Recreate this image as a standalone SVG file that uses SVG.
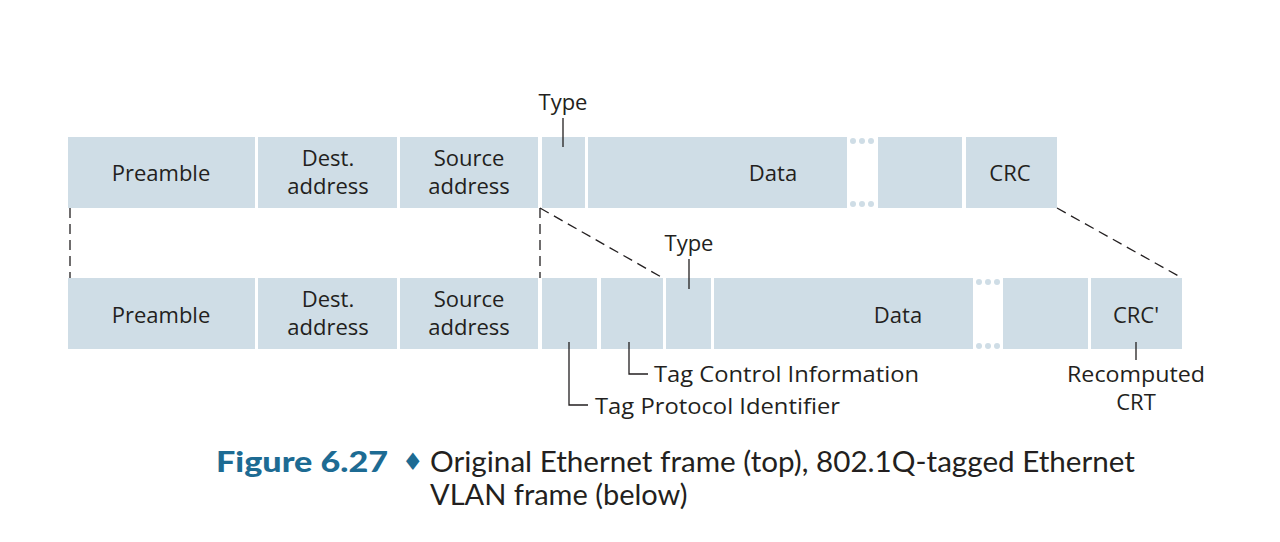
<svg xmlns="http://www.w3.org/2000/svg" width="1280" height="542" viewBox="0 0 1280 542">
<style>
.f{fill:#cfdde6}
.t{font-family:"Open Sans","Noto Sans",sans-serif;font-size:22px;fill:#231f20;text-anchor:middle}
.ts{font-family:"Open Sans","Noto Sans",sans-serif;font-size:22px;fill:#231f20}
.ln{stroke:#231f20;stroke-width:1.3;fill:none}
.dash{stroke:#231f20;stroke-width:1.3;fill:none;stroke-dasharray:10 6}
.dot{fill:#cfdde6}
.cap{font-family:"Lato","Open Sans",sans-serif;font-size:29px;fill:#231f20}
.capb{font-family:"Lato","Open Sans",sans-serif;font-size:29px;font-weight:900;fill:#1d6b93}
</style>
<rect width="1280" height="542" fill="#ffffff"/>
<g id="top-frame">
 <g id="t-preamble"><rect class="f" x="68" y="137" width="187" height="71"/><text class="t" x="161" y="181">Preamble</text></g>
 <g id="t-dest"><rect class="f" x="258" y="137" width="139" height="71"/><text class="t" x="328" y="166">Dest.</text><text class="t" x="328" y="194">address</text></g>
 <g id="t-source"><rect class="f" x="400" y="137" width="138" height="71"/><text class="t" x="469" y="166">Source</text><text class="t" x="469" y="194">address</text></g>
 <g id="t-type"><rect class="f" x="542" y="137" width="43" height="71"/></g>
 <g id="t-data"><rect class="f" x="588" y="137" width="259" height="71"/><text class="t" x="773" y="181">Data</text></g>
 <g id="t-dots"><circle class="dot" cx="853" cy="141" r="3"/><circle class="dot" cx="862" cy="141" r="3"/><circle class="dot" cx="871" cy="141" r="3"/><circle class="dot" cx="853" cy="204" r="3"/><circle class="dot" cx="862" cy="204" r="3"/><circle class="dot" cx="871" cy="204" r="3"/></g>
 <g id="t-data2"><rect class="f" x="878" y="137" width="84" height="71"/></g>
 <g id="t-crc"><rect class="f" x="966" y="137" width="91" height="71"/><text class="t" x="1010" y="181">CRC</text></g>
 <g id="t-type-label"><text class="t" x="563" y="110">Type</text></g>
</g>
<g id="bottom-frame">
 <g id="b-preamble"><rect class="f" x="68" y="278" width="187" height="71"/><text class="t" x="161" y="323">Preamble</text></g>
 <g id="b-dest"><rect class="f" x="258" y="278" width="139" height="71"/><text class="t" x="328" y="307">Dest.</text><text class="t" x="328" y="335">address</text></g>
 <g id="b-source"><rect class="f" x="400" y="278" width="138" height="71"/><text class="t" x="469" y="307">Source</text><text class="t" x="469" y="335">address</text></g>
 <g id="b-tpid"><rect class="f" x="542" y="278" width="55" height="71"/></g>
 <g id="b-tci"><rect class="f" x="601" y="278" width="62" height="71"/></g>
 <g id="b-type"><rect class="f" x="666" y="278" width="45" height="71"/></g>
 <g id="b-data"><rect class="f" x="714" y="278" width="259" height="71"/><text class="t" x="898" y="323">Data</text></g>
 <g id="b-dots"><circle class="dot" cx="979" cy="282" r="3"/><circle class="dot" cx="988" cy="282" r="3"/><circle class="dot" cx="997" cy="282" r="3"/><circle class="dot" cx="979" cy="346" r="3"/><circle class="dot" cx="988" cy="346" r="3"/><circle class="dot" cx="997" cy="346" r="3"/></g>
 <g id="b-data2"><rect class="f" x="1003" y="278" width="85" height="71"/></g>
 <g id="b-crc"><rect class="f" x="1091" y="278" width="91" height="71"/><text class="t" x="1136" y="323">CRC'</text></g>
 <g id="b-type-label"><text class="t" x="689" y="251">Type</text></g>
 <g id="tci-label"><text class="ts" x="654" y="382" textLength="265" lengthAdjust="spacingAndGlyphs">Tag Control Information</text></g>
 <g id="tpid-label"><text class="ts" x="595" y="414" textLength="245" lengthAdjust="spacingAndGlyphs">Tag Protocol Identifier</text></g>
 <g id="crc-label"><text class="ts" x="1067" y="382" textLength="138" lengthAdjust="spacingAndGlyphs">Recomputed</text><text class="t" x="1136" y="410">CRT</text></g>
</g>
<g id="connectors">
 <line class="ln" x1="563" y1="118" x2="563" y2="147"/>
 <line class="ln" x1="689" y1="259" x2="689" y2="289"/>
 <polyline class="ln" points="569,342 569,405 588,405"/>
 <polyline class="ln" points="629,342 629,374 648,374"/>
 <line class="ln" x1="1136" y1="342" x2="1136" y2="360"/>
 <line class="dash" x1="70" y1="208" x2="70" y2="278"/>
 <line class="dash" x1="540" y1="208" x2="540" y2="278"/>
 <line class="dash" x1="540" y1="208" x2="663" y2="278"/>
 <line class="dash" x1="1057" y1="208" x2="1182" y2="278"/>
</g>
<g id="caption">
 <text class="capb" x="216" y="472" textLength="172" lengthAdjust="spacingAndGlyphs">Figure 6.27</text>
 <text x="402" y="470" style="font-family:'DejaVu Sans',sans-serif;font-size:24px;fill:#1d6b93">♦</text>
 <text class="cap" x="430" y="472" textLength="705" lengthAdjust="spacingAndGlyphs">Original Ethernet frame (top), 802.1Q-tagged Ethernet</text>
 <text class="cap" x="430" y="505">VLAN frame (below)</text>
</g>
</svg>
